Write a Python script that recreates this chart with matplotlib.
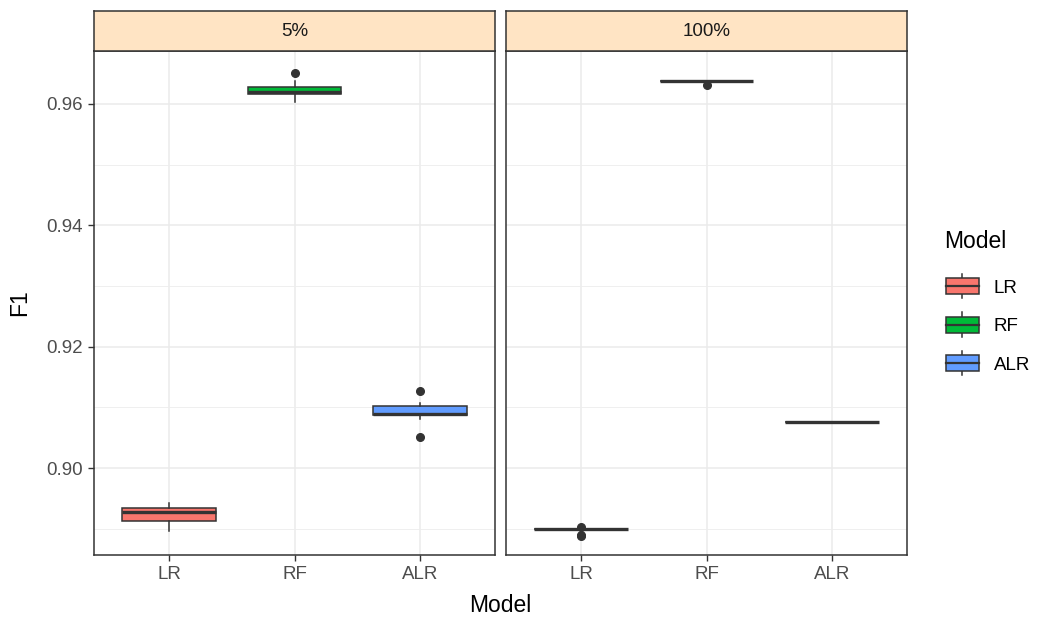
import matplotlib.pyplot as plt
from matplotlib.patches import Patch, Rectangle
from matplotlib.lines import Line2D
from matplotlib.legend_handler import HandlerBase

plt.rcParams['font.family'] = ['Liberation Sans', 'DejaVu Sans']

models = ["LR", "RF", "ALR"]
panels = ["5%", "100%"]
colors = ["#F8766D", "#00BA38", "#619CFF"]

# box stats, one value per model
q1_5pct = [0.89138, 0.96165, 0.90879]
med_5pct = [0.89275, 0.96190, 0.90900]
q3_5pct = [0.89345, 0.96285, 0.91027]
lo_5pct = [0.88966, 0.96038, 0.90813]
hi_5pct = [0.89428, 0.96368, 0.91067]
out_5pct = [[], [0.96506], [0.91275, 0.90516]]

q1_100pct = [0.88990, 0.96368, 0.90753]
med_100pct = [0.88995, 0.96368, 0.90753]
q3_100pct = [0.89000, 0.96368, 0.90753]
lo_100pct = [0.88990, 0.96368, 0.90753]
hi_100pct = [0.89000, 0.96370, 0.90755]
out_100pct = [[0.89030, 0.88900, 0.88885], [0.96313], []]

panel_stats = [
    (q1_5pct, med_5pct, q3_5pct, lo_5pct, hi_5pct, out_5pct),
    (q1_100pct, med_100pct, q3_100pct, lo_100pct, hi_100pct, out_100pct),
]

W, H = 1052, 619
fig = plt.figure(figsize=(W / 100, H / 100), dpi=100)

dark = "#333333"
lefts = [94, 506]
pw = 401
top, bottom = 51, 555
small = 13.5
big = 16.5

for k, (left, name) in enumerate(zip(lefts, panels)):
    ax = fig.add_axes([left / W, 1 - bottom / H, pw / W, (bottom - top) / H])
    q1, med, q3, lo, hi, out = panel_stats[k]
    stats = []
    for i in range(len(models)):
        stats.append(dict(q1=q1[i], med=med[i], q3=q3[i], whislo=lo[i],
                          whishi=hi[i], fliers=out[i], label=models[i]))
    bp = ax.bxp(stats, positions=[1, 2, 3], widths=0.75, patch_artist=True,
                showcaps=False,
                boxprops=dict(edgecolor=dark, linewidth=1.1),
                medianprops=dict(color=dark, linewidth=2.4, solid_capstyle='butt'),
                whiskerprops=dict(color=dark, linewidth=1.1),
                flierprops=dict(marker='o', markerfacecolor=dark,
                                markeredgecolor=dark, markersize=5.5))
    for patch, c in zip(bp['boxes'], colors):
        patch.set_facecolor(c)
    for z in bp['boxes'] + bp['medians'] + bp['whiskers'] + bp['fliers']:
        z.set_zorder(3)

    ax.set_xlim(0.4, 3.6)
    ax.set_ylim(0.8857, 0.9687)
    ax.set_yticks([0.90, 0.92, 0.94, 0.96])
    ax.set_yticks([0.89, 0.91, 0.93, 0.95], minor=True)
    ax.set_xticks([1, 2, 3])
    ax.set_xticklabels(models)
    if k == 0:
        ax.set_yticklabels(["0.90", "0.92", "0.94", "0.96"])
    else:
        ax.set_yticklabels([])
    ax.grid(True, which='major', color='#EBEBEB', linewidth=1.1, zorder=0)
    ax.grid(True, which='minor', axis='y', color='#EDEDED', linewidth=0.6, zorder=0)
    ax.set_axisbelow(True)
    ax.tick_params(which='major', length=4, width=1, color=dark,
                   labelsize=small, labelcolor='#4D4D4D', pad=4)
    ax.tick_params(which='minor', length=0)
    if k == 1:
        ax.tick_params(axis='y', length=0)
    for s in ax.spines.values():
        s.set_color(dark)
        s.set_linewidth(1.1)

    # facet strip
    sax = fig.add_axes([left / W, 1 - top / H, pw / W, 40 / H])
    sax.set_facecolor('#FFE4C4')
    sax.set_xticks([])
    sax.set_yticks([])
    for s in sax.spines.values():
        s.set_color(dark)
        s.set_linewidth(1.1)
    sax.text(0.5, 0.5, name, ha='center', va='center', fontsize=small,
             color='#1A1A1A', transform=sax.transAxes)

fig.text(500 / W, 1 - 606 / H, "Model", ha='center', va='center', fontsize=big)
fig.text(20 / W, 1 - 303 / H, "F1", ha='center', va='center', fontsize=big,
         rotation=90)


class BoxKey(HandlerBase):
    def create_artists(self, legend, orig_handle, xdescent, ydescent,
                       width, height, fontsize, trans):
        x0, y0 = -xdescent, -ydescent
        bh = height * 0.8
        by = y0 + (height - bh) / 2
        rect = Rectangle((x0, by), width, bh, facecolor=orig_handle.get_facecolor(),
                         edgecolor=dark, linewidth=1.1, transform=trans)
        mid = y0 + height / 2
        med = Line2D([x0, x0 + width], [mid, mid], color=dark, linewidth=1.6,
                     transform=trans)
        cx = x0 + width / 2
        w1 = Line2D([cx, cx], [by + bh, y0 + height * 1.1], color=dark,
                    linewidth=1.1, transform=trans)
        w2 = Line2D([cx, cx], [by, y0 - height * 0.1], color=dark,
                    linewidth=1.1, transform=trans)
        return [w1, w2, rect, med]


fig.text(944 / W, 1 - 241 / H, "Model", ha='left', va='center', fontsize=big)
handles = [Patch(facecolor=c, label=m) for c, m in zip(colors, models)]
leg = fig.legend(handles=handles, loc='upper left',
                 bbox_to_anchor=(946 / W, 1 - 276 / H), frameon=False,
                 borderpad=0, borderaxespad=0,
                 fontsize=small, handler_map={Patch: BoxKey()},
                 handlelength=1.75, handleheight=1.3, labelspacing=0.96,
                 handletextpad=0.8)

fig.savefig("out.png", dpi=100)
